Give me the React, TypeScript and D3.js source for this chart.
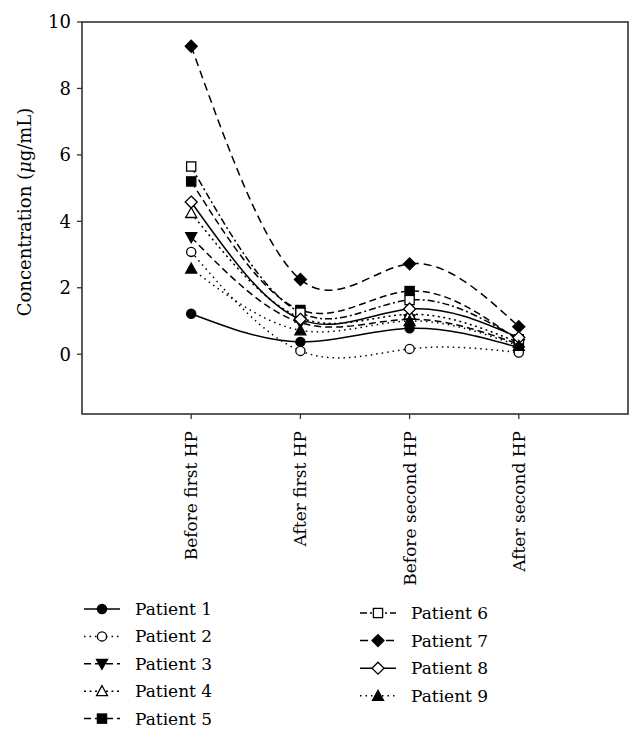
import React from "react";
import * as d3 from "d3";

const categories = ["Before first HP", "After first HP", "Before second HP", "After second HP"];
const patientNames = ["Patient 1", "Patient 2", "Patient 3", "Patient 4", "Patient 5", "Patient 6", "Patient 7", "Patient 8", "Patient 9"];
const patient1 = [1.22, 0.37, 0.78, 0.2];
const patient2 = [3.08, 0.1, 0.16, 0.05];
const patient3 = [3.52, 0.95, 1.05, 0.3];
const patient4 = [4.25, 1.1, 1.2, 0.35];
const patient5 = [5.2, 1.33, 1.9, 0.4];
const patient6 = [5.65, 1.25, 1.63, 0.45];
const patient7 = [9.27, 2.25, 2.72, 0.83];
const patient8 = [4.58, 1.05, 1.36, 0.5];
const patient9 = [2.58, 0.72, 1.0, 0.25];
const yTicks = [0, 2, 4, 6, 8, 10];

const series = [patient1, patient2, patient3, patient4, patient5, patient6, patient7, patient8, patient9];
// marker: shape, filled
const markers: [string, boolean][] = [
  ["circle", true],
  ["circle", false],
  ["triDown", true],
  ["triUp", false],
  ["square", true],
  ["square", false],
  ["diamond", true],
  ["diamond", false],
  ["triUp", true],
];
const dashes = ["", "1.5,4", "7,4", "2,3.5", "7,4", "7,3,2,3", "8,5", "", "1.5,4"];

const FONT = "'DejaVu Serif', 'Liberation Serif', serif";

function Marker({ shape, filled, x, y }: { shape: string; filled: boolean; x: number; y: number }) {
  const fill = filled ? "#000" : "#fff";
  const common = { fill, stroke: "#000", strokeWidth: 1.3 };
  const r = 4.6;
  if (shape === "circle") return <circle cx={x} cy={y} r={r} {...common} />;
  if (shape === "square") return <rect x={x - r} y={y - r} width={2 * r} height={2 * r} {...common} />;
  if (shape === "diamond")
    return <path d={`M${x},${y - 6}L${x + 6},${y}L${x},${y + 6}L${x - 6},${y}Z`} {...common} />;
  if (shape === "triUp")
    return <path d={`M${x},${y - 5.5}L${x + 5.5},${y + 4.5}L${x - 5.5},${y + 4.5}Z`} {...common} />;
  return <path d={`M${x},${y + 5.5}L${x + 5.5},${y - 4.5}L${x - 5.5},${y - 4.5}Z`} {...common} />;
}

export default function App() {
  const left = 82, right = 628, top = 22, bottom = 414;
  const x = d3.scaleLinear().domain([0, 5]).range([left, right]);
  const y = d3.scaleLinear().domain([-1.8, 10]).range([bottom, top]);
  const line = d3
    .line<number>()
    .x((_, i) => x(i + 1))
    .y((d) => y(d))
    .curve(d3.curveNatural);

  const legendLeft = [0, 1, 2, 3, 4];
  const legendRight = [5, 6, 7, 8];

  const legendItem = (i: number, lx: number, ly: number) => (
    <g key={"lg" + i}>
      <line x1={lx} x2={lx + 36} y1={ly} y2={ly} stroke="#000" strokeWidth={1.5} strokeDasharray={dashes[i] || undefined} />
      <Marker shape={markers[i][0]} filled={markers[i][1]} x={lx + 18} y={ly} />
      <text x={lx + 51} y={ly} dy="0.35em" fontSize={17} fontFamily={FONT}>
        {patientNames[i]}
      </text>
    </g>
  );

  return (
    <svg width={642} height={742} style={{ position: "absolute", left: 0, top: 0, background: "#fff" }}>
      <rect x={0} y={0} width={642} height={742} fill="#fff" />
      {/* lines */}
      {series.map((s, i) => (
        <path key={"l" + i} d={line(s) || ""} fill="none" stroke="#000" strokeWidth={1.5} strokeDasharray={dashes[i] || undefined} />
      ))}
      {/* markers */}
      {series.map((s, i) =>
        s.map((v, j) => <Marker key={`m${i}-${j}`} shape={markers[i][0]} filled={markers[i][1]} x={x(j + 1)} y={y(v)} />)
      )}
      {/* frame */}
      <rect x={left} y={top} width={right - left} height={bottom - top} fill="none" stroke="#333" strokeWidth={1.6} />
      {/* y ticks */}
      {yTicks.map((t) => (
        <g key={"yt" + t}>
          <line x1={left - 5} x2={left} y1={y(t)} y2={y(t)} stroke="#333" strokeWidth={1.3} />
          <text x={left - 11} y={y(t)} dy="0.35em" textAnchor="end" fontSize={18} fontFamily={FONT}>
            {t}
          </text>
        </g>
      ))}
      {/* x ticks */}
      {categories.map((c, i) => (
        <g key={"xt" + i}>
          <line x1={x(i + 1)} x2={x(i + 1)} y1={bottom} y2={bottom + 5} stroke="#333" strokeWidth={1.3} />
          <text
            transform={`translate(${x(i + 1)},${bottom + 17}) rotate(-90)`}
            dy="0.35em"
            textAnchor="end"
            fontSize={17}
            fontFamily={FONT}
          >
            {c}
          </text>
        </g>
      ))}
      {/* y label */}
      <text transform={`translate(31,212) rotate(-90)`} textAnchor="middle" fontSize={18} fontFamily={FONT}>
        Concentration (<tspan fontStyle="italic">μ</tspan>g/mL)
      </text>
      {/* legend */}
      {legendLeft.map((i, k) => legendItem(i, 84, 609 + k * 27.4))}
      {legendRight.map((i, k) => legendItem(i, 360, 613 + k * 27.6))}
    </svg>
  );
}
